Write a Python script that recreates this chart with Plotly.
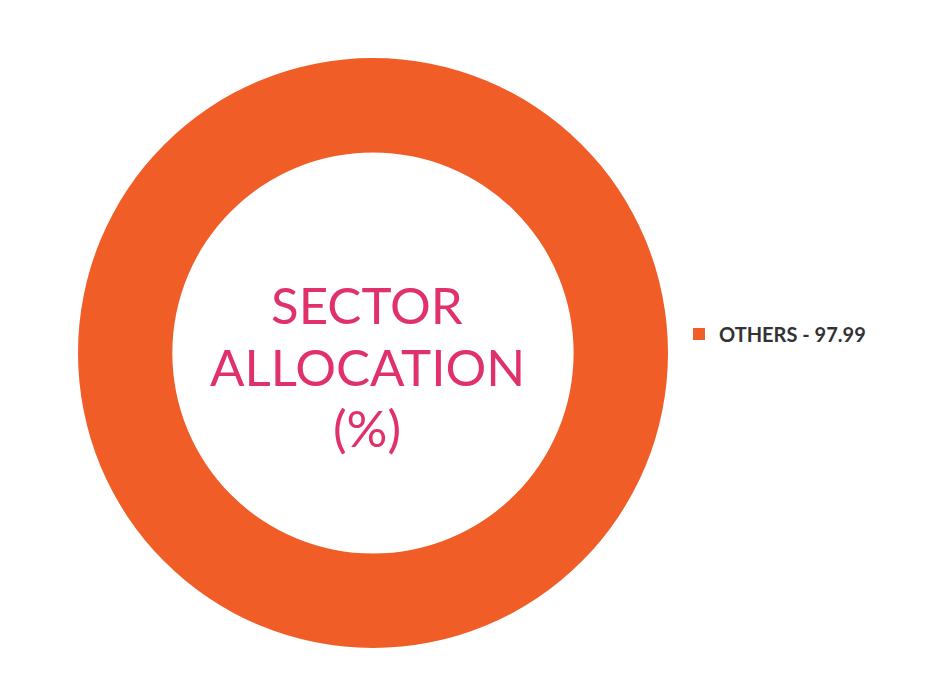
import plotly.graph_objects as go

labels = ["OTHERS"]
values = [97.99]
colors = ["#F15D27"]
center_lines = ["SECTOR", "ALLOCATION", "(%)"]

legend_names = [f"{l} - {v:.2f}" for l, v in zip(labels, values)]

W, H = 931, 699
# page body adds an 8px offset; compensate
off = 8
cx, cy, r = 373 - off, 353 - off, 295
text_x = 367 - off
line_y = [304, 366, 427]

fig = go.Figure(go.Pie(
    labels=legend_names,
    values=values,
    hole=0.68,
    marker=dict(colors=colors, line=dict(width=0)),
    textinfo="none",
    sort=False,
    domain=dict(x=[(cx - r) / W, (cx + r) / W], y=[(H - cy - r) / H, (H - cy + r) / H]),
    hoverinfo="label",
))

fig.update_layout(
    width=W, height=H,
    margin=dict(l=0, r=0, t=0, b=0),
    paper_bgcolor="white",
    plot_bgcolor="white",
    showlegend=True,
    legend=dict(
        x=(671) / W, y=(H - (334 - off)) / H, xanchor="left", yanchor="middle",
        font=dict(family="Lato", size=20, color="#333333", weight="bold"),
        itemsizing="constant",
    ),
    annotations=[dict(
        text=t,
        x=text_x / W, y=(H - (yy - off)) / H, xref="paper", yref="paper",
        xanchor="center", yanchor="middle", showarrow=False,
        font=dict(family="Lato", size=51, color="#E0316A"),
    ) for t, yy in zip(center_lines, line_y)],
)

fig.write_html("out.html")
